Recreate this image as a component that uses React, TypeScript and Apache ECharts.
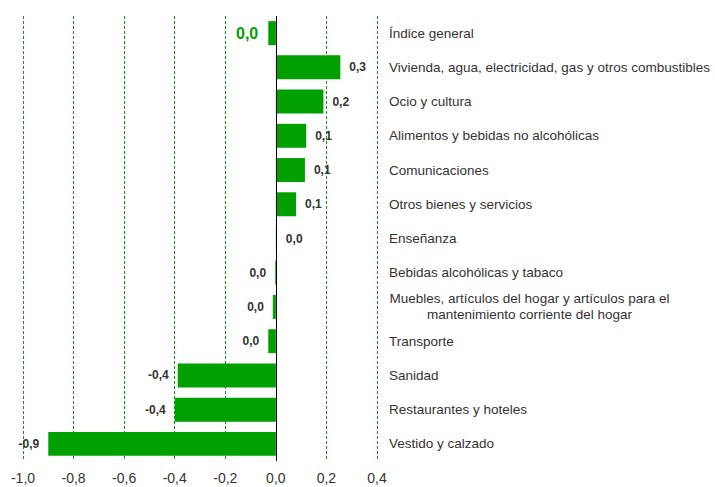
import React, { useEffect, useRef } from "react";
import * as echarts from "echarts";

const categories = [
  "Índice general",
  "Vivienda, agua, electricidad, gas y otros combustibles",
  "Ocio y cultura",
  "Alimentos y bebidas no alcohólicas",
  "Comunicaciones",
  "Otros bienes y servicios",
  "Enseñanza",
  "Bebidas alcohólicas y tabaco",
  "Muebles, artículos del hogar y artículos para el\nmantenimiento corriente del hogar",
  "Transporte",
  "Sanidad",
  "Restaurantes y hoteles",
  "Vestido y calzado",
];

const values = [-0.03, 0.255, 0.188, 0.12, 0.115, 0.08, 0.004, -0.003, -0.012, -0.03, -0.388, -0.4, -0.9];
const valueLabels = ["0,0", "0,3", "0,2", "0,1", "0,1", "0,1", "0,0", "0,0", "0,0", "0,0", "-0,4", "-0,4", "-0,9"];
const tickLabels = ["-1,0", "-0,8", "-0,6", "-0,4", "-0,2", "0,0", "0,2", "0,4"];

const GREEN = "#00A000";
const FONT = "'Liberation Sans', Arial, sans-serif";
const CAT_SIZE = 13.5;

export default function App() {
  const ref = useRef<HTMLDivElement>(null);
  useEffect(() => {
    if (!ref.current) return;
    const chart = echarts.init(ref.current, undefined, { renderer: "svg" });

    // measure the widest line of multi-line labels so lines can be centred on each other
    let boxWidth = 280;
    try {
      const cv = document.createElement("canvas");
      const ctx = cv.getContext("2d");
      if (ctx) {
        ctx.font = CAT_SIZE + "px " + FONT;
        const multi = categories.find((c) => c.indexOf("\n") >= 0) || "";
        boxWidth = Math.max(...multi.split("\n").map((l) => ctx.measureText(l).width));
        boxWidth = Math.ceil(boxWidth) + 1;
      }
    } catch (e) {}

    const data = values.map((v, i) => {
      const isTotal = i === 0;
      return {
        value: v,
        label: {
          show: true,
          position: v >= 0 ? "right" : "left",
          distance: isTotal ? 10 : 9,
          formatter: () => valueLabels[i],
          color: isTotal ? GREEN : "#333333",
          fontWeight: "bold",
          fontSize: isTotal ? 16 : 12,
          fontFamily: FONT,
        },
      };
    });
    chart.setOption({
      animation: false,
      grid: { left: 23, right: 338, top: 16, bottom: 26, containLabel: false },
      xAxis: {
        type: "value",
        min: -1.0,
        max: 0.4,
        interval: 0.2,
        axisLine: { show: false },
        axisTick: { show: false },
        splitLine: { show: true, lineStyle: { color: GREEN, type: [3, 2], width: 1 } },
        axisLabel: {
          margin: 10,
          fontSize: 14,
          color: "#333333",
          fontFamily: FONT,
          formatter: (v: number) => {
            const idx = Math.round((v + 1.0) / 0.2);
            return tickLabels[idx] ?? "";
          },
        },
      },
      yAxis: {
        type: "category",
        data: categories,
        inverse: true,
        position: "right",
        axisLine: { show: false },
        axisTick: { show: false },
        splitLine: { show: false },
        axisLabel: {
          margin: 12,
          align: "left",
          fontSize: CAT_SIZE,
          color: "#333333",
          fontFamily: FONT,
          lineHeight: 16,
          formatter: (v: string) => {
            if (v.indexOf("\n") >= 0) {
              return v
                .split("\n")
                .map((l) => "{c|" + l + "}")
                .join("\n");
            }
            return v;
          },
          rich: {
            c: {
              width: boxWidth,
              align: "center",
              fontSize: CAT_SIZE,
              lineHeight: 16,
              color: "#333333",
              fontFamily: FONT,
            },
          },
        },
      },
      series: [
        {
          type: "bar",
          data,
          barCategoryGap: "30%",
          itemStyle: { color: GREEN },
          markLine: {
            silent: true,
            symbol: "none",
            label: { show: false },
            lineStyle: { color: "#000000", type: "solid", width: 1 },
            data: [{ xAxis: 0 }],
          },
        },
      ],
    });
    return () => chart.dispose();
  }, []);
  return (
    <div
      ref={ref}
      style={{ position: "fixed", left: 0, top: 0, width: 715, height: 487, background: "#ffffff" }}
    />
  );
}
